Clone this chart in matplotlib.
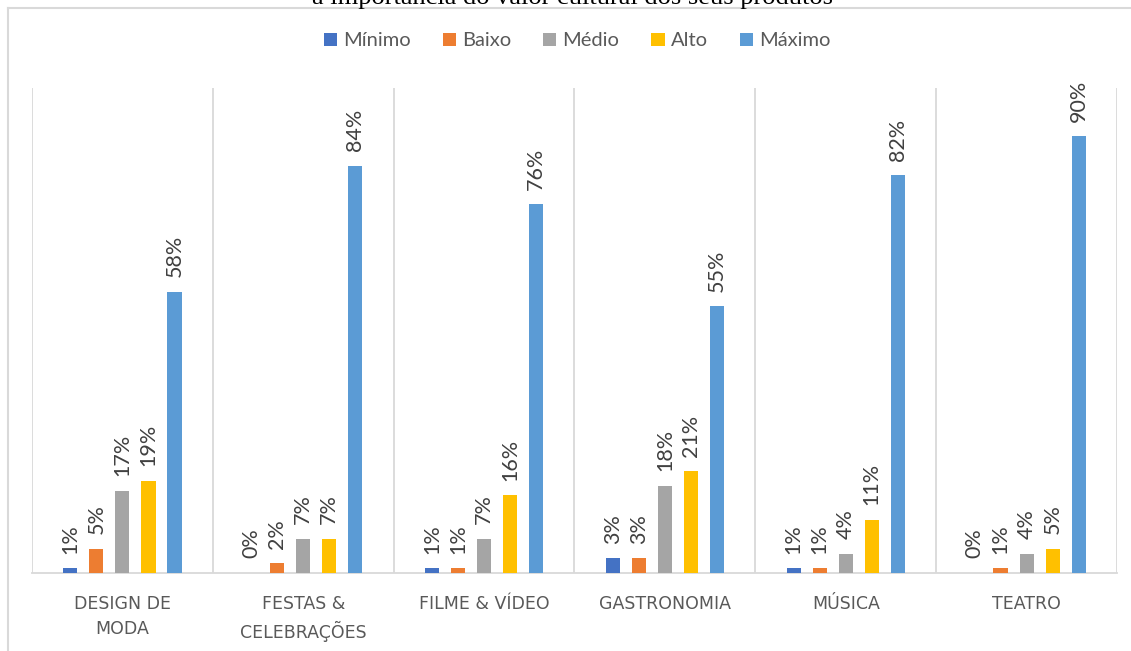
import matplotlib.pyplot as plt
import matplotlib.lines as mlines
import numpy as np

# data (percent)
categories = ["DESIGN DE\nMODA", "FESTAS &\nCELEBRAÇÕES", "FILME & VÍDEO",
              "GASTRONOMIA", "MÚSICA", "TEATRO"]
series_names = ["Mínimo", "Baixo", "Médio", "Alto", "Máximo"]
minimo = [1, 0, 1, 3, 1, 0]
baixo = [5, 2, 1, 3, 1, 1]
medio = [17, 7, 7, 18, 4, 4]
alto = [19, 7, 16, 21, 11, 5]
maximo = [58, 84, 76, 55, 82, 90]
colors = ["#4472C4", "#ED7D31", "#A5A5A5", "#FFC000", "#5B9BD5"]
title = "a importância do valor cultural dos seus produtos"

W, H = 1131, 651
fig = plt.figure(figsize=(W / 100, H / 100), dpi=100)
ax = fig.add_axes([32 / W, 1 - 573 / H, (1117 - 32) / W, (573 - 88) / H])

x = np.arange(len(categories))
step = 0.144
width = 0.078
grid_col = "#D9D9D9"

for i, (name, vals) in enumerate(zip(series_names, [minimo, baixo, medio, alto, maximo])):
    pos = x + (i - 2) * step
    rects = ax.bar(pos, vals, width=width, color=colors[i], label=name, zorder=3)
    for r, v in zip(rects, vals):
        ax.text(r.get_x() + r.get_width() / 2, v + 3.0, "%d%%" % v,
                rotation=90, ha="center", va="bottom", fontsize=15.5,
                color="#404040", family="Lato")

ax.set_xlim(-0.5, len(categories) - 0.5)
ax.set_ylim(0, 100)
ax.set_yticks([])
ax.set_xticks(x)
ax.set_xticklabels(categories, fontsize=12.5, color="#595959", family="DejaVu Sans",
                   linespacing=1.45)
ax.tick_params(axis="x", length=0, pad=16)
for b in np.arange(-0.5, len(categories) + 0.5, 1):
    ax.axvline(b, color=grid_col, lw=1.3, zorder=1)
for s in ["top", "right", "left"]:
    ax.spines[s].set_visible(False)
ax.spines["bottom"].set_color(grid_col)
ax.spines["bottom"].set_linewidth(1.3)

leg = fig.legend(loc="center", bbox_to_anchor=(577 / W, 1 - 41 / H), ncol=5,
                 frameon=False, handlelength=0.65, handleheight=0.65,
                 handletextpad=0.3, columnspacing=1.6, prop={"family": "Lato", "size": 14.5})
for t in leg.get_texts():
    t.set_color("#595959")

# outer chart frame (cut off on right and bottom)
fig.add_artist(mlines.Line2D([8 / W, 1], [1 - 8 / H, 1 - 8 / H], color=grid_col, lw=1.5))
fig.add_artist(mlines.Line2D([8 / W, 8 / W], [0, 1 - 8 / H], color=grid_col, lw=1.5))

# title, partly cut off at the top edge as in the source image
fig.text(573 / W, 1 - 4 / H, title, ha="center", va="baseline", fontsize=19,
         family="Liberation Serif", color="black")

fig.savefig("out.png", dpi=100)
